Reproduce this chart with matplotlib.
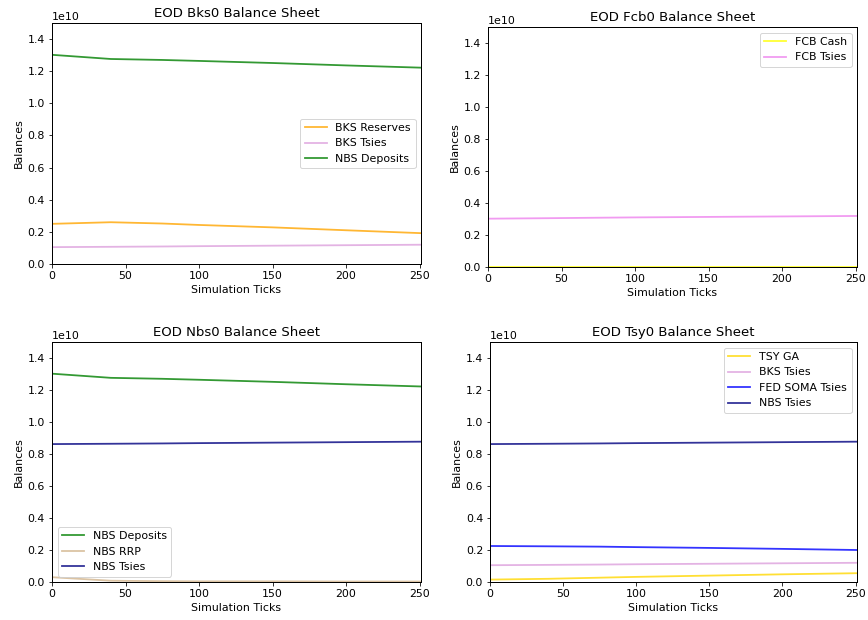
import matplotlib
matplotlib.use("Agg")
import matplotlib.pyplot as plt

W, H = 868, 620

ticks = [0, 40, 75, 100, 150, 200, 251]

# Bks0
bks_reserves = [0.250e10, 0.260e10, 0.252e10, 0.243e10, 0.228e10, 0.210e10, 0.192e10]
bks_tsies = [0.105e10, 0.107e10, 0.109e10, 0.111e10, 0.114e10, 0.117e10, 0.120e10]
nbs_deposits = [1.302e10, 1.276e10, 1.270e10, 1.264e10, 1.251e10, 1.236e10, 1.222e10]

# Fcb0
fcb_cash = [0.003e10, 0.003e10, 0.003e10, 0.003e10, 0.003e10, 0.003e10, 0.003e10]
fcb_tsies = [0.302e10, 0.305e10, 0.308e10, 0.310e10, 0.313e10, 0.316e10, 0.319e10]

# Nbs0
nbs_rrp = [0.030e10, 0.008e10, 0.005e10, 0.004e10, 0.004e10, 0.003e10, 0.003e10]
nbs_tsies = [0.862e10, 0.864e10, 0.866e10, 0.868e10, 0.871e10, 0.874e10, 0.877e10]

# Tsy0
tsy_ga = [0.015e10, 0.020e10, 0.027e10, 0.032e10, 0.040e10, 0.048e10, 0.055e10]
fed_soma_tsies = [0.225e10, 0.223e10, 0.221e10, 0.218e10, 0.213e10, 0.207e10, 0.200e10]

plt.rcParams["font.size"] = 11
plt.rcParams["lines.linewidth"] = 1.8
plt.rcParams["axes.linewidth"] = 1.0


def px_axes(fig, x0, y0, x1, y1):
    return fig.add_axes([x0 / W, 1 - y1 / H, (x1 - x0) / W, (y1 - y0) / H])


def finish(ax, title, loc):
    ax.set_title(title)
    ax.set_xlabel("Simulation Ticks")
    ax.set_ylabel("Balances")
    ax.set_xlim(0, 251)
    ax.set_ylim(0, 1.5e10)
    ax.legend(loc=loc)


fig = plt.figure(figsize=(W / 72, H / 72), dpi=72)

ax1 = px_axes(fig, 52, 23, 421, 264)
ax1.plot(ticks, bks_reserves, color="orange", alpha=0.8, label="BKS Reserves")
ax1.plot(ticks, bks_tsies, color="plum", alpha=0.8, label="BKS Tsies")
ax1.plot(ticks, nbs_deposits, color="green", alpha=0.8, label="NBS Deposits")
finish(ax1, "EOD Bks0 Balance Sheet", "center right")

ax2 = px_axes(fig, 488, 27, 857, 267)
ax2.plot(ticks, fcb_cash, color="yellow", alpha=0.8, label="FCB Cash")
ax2.plot(ticks, fcb_tsies, color="violet", alpha=0.8, label="FCB Tsies")
finish(ax2, "EOD Fcb0 Balance Sheet", "upper right")

ax3 = px_axes(fig, 52, 342, 421, 582)
ax3.plot(ticks, nbs_deposits, color="green", alpha=0.8, label="NBS Deposits")
ax3.plot(ticks, nbs_rrp, color="tan", alpha=0.8, label="NBS RRP")
ax3.plot(ticks, nbs_tsies, color="navy", alpha=0.8, label="NBS Tsies")
finish(ax3, "EOD Nbs0 Balance Sheet", "lower left")

ax4 = px_axes(fig, 490, 342, 857, 582)
ax4.plot(ticks, tsy_ga, color="gold", alpha=0.8, label="TSY GA")
ax4.plot(ticks, bks_tsies, color="plum", alpha=0.8, label="BKS Tsies")
ax4.plot(ticks, fed_soma_tsies, color="blue", alpha=0.8, label="FED SOMA Tsies")
ax4.plot(ticks, nbs_tsies, color="navy", alpha=0.8, label="NBS Tsies")
finish(ax4, "EOD Tsy0 Balance Sheet", "upper right")

fig.savefig("out.png", dpi=72)
